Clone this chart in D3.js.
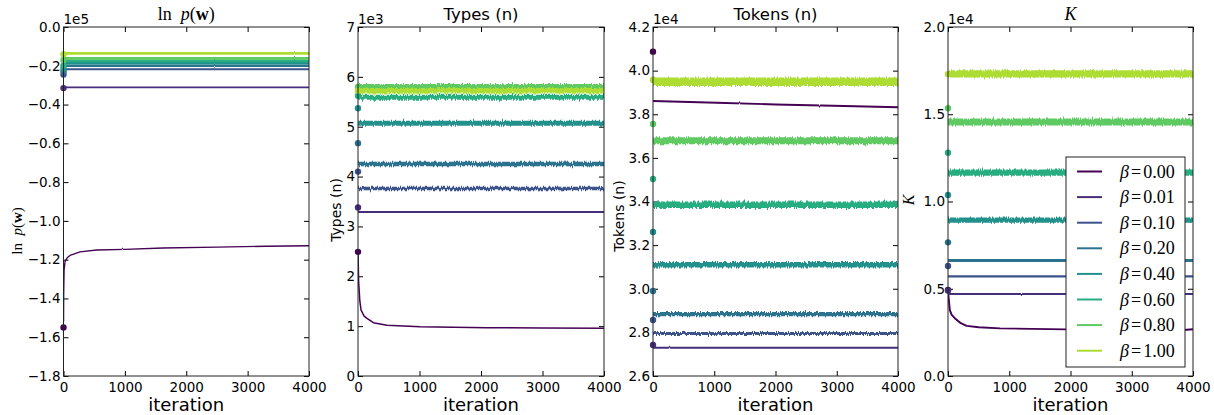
<!DOCTYPE html>
<html>
<head>
<meta charset="utf-8">
<script src="https://cdn.jsdelivr.net/npm/d3@7"></script>
<style>
  html, body { margin: 0; padding: 0; background: #fff; }
  svg { display: block; }
  .tick text { font-family: "DejaVu Sans", sans-serif; font-size: 13.5px; fill: #000; }
  .tick line { stroke: #000; stroke-width: 1; }
</style>
</head>
<body>
<svg id="chart" width="1214" height="415"></svg>
<script>
// ---- data -------------------------------------------------------------
const betas = ["0.00", "0.01", "0.10", "0.20", "0.40", "0.60", "0.80", "1.00"];
const iterTicks = [0, 1000, 2000, 3000, 4000];

// log-likelihood (x 1e5): initial state and [iteration, value] knots per beta
const lnpInitial = [-1.55, -0.315, -0.245, -0.230, -0.215, -0.200, -0.170, -0.140];
const lnpTrace = [
  [[1, -1.52], [3, -1.38], [10, -1.25], [25, -1.21], [60, -1.19], [106, -1.178], [270, -1.16], [540, -1.15], [1000, -1.147], [1620, -1.14], [2500, -1.135], [3300, -1.131], [4000, -1.128]],
  [[1, -0.311], [4000, -0.311]],
  [[1, -0.218], [4000, -0.218]],
  [[1, -0.200], [4000, -0.200]],
  [[1, -0.187], [4000, -0.187]],
  [[1, -0.175], [4000, -0.175]],
  [[1, -0.162], [4000, -0.162]],
  [[1, -0.136], [4000, -0.136]]
];
const lnpSpread = [0.007, 0.009, 0.011, 0.013, 0.014, 0.014, 0.014, 0.013];
const lnpTicks = [0, -0.2, -0.4, -0.6, -0.8, -1.0, -1.2, -1.4, -1.6, -1.8];

// number of types (x 1e3)
const typesInitial = [2.49, 3.38, 4.10, 4.67, 5.37, 5.62, 5.80, 5.72];
const typesTrace = [
  [[1, 2.45], [10, 1.9], [30, 1.5], [50, 1.32], [100, 1.2], [140, 1.16], [250, 1.07], [470, 1.02], [1010, 0.99], [2100, 0.97], [3000, 0.965], [4000, 0.96]],
  [[1, 3.29], [4000, 3.29]],
  [[1, 3.76], [4000, 3.76]],
  [[1, 4.25], [4000, 4.25]],
  [[1, 5.07], [4000, 5.07]],
  [[1, 5.59], [4000, 5.59]],
  [[1, 5.80], [4000, 5.80]],
  [[1, 5.72], [4000, 5.72]]
];
const typesSpread = [0.03, 0.04, 0.07, 0.09, 0.10, 0.10, 0.11, 0.11];
const typesTicks = [0, 1, 2, 3, 4, 5, 6, 7];

// number of tokens (x 1e4)
const tokensInitial = [4.087, 2.742, 2.857, 2.990, 3.260, 3.503, 3.755, 3.957];
const tokensTrace = [
  [[1, 3.861], [1040, 3.853], [2000, 3.845], [2940, 3.839], [4000, 3.832]],
  [[1, 2.730], [4000, 2.730]],
  [[1, 2.795], [4000, 2.795]],
  [[1, 2.884], [4000, 2.884]],
  [[1, 3.110], [4000, 3.110]],
  [[1, 3.385], [4000, 3.385]],
  [[1, 3.678], [4000, 3.678]],
  [[1, 3.949], [4000, 3.949]]
];
const tokensSpread = [0.009, 0.009, 0.014, 0.019, 0.025, 0.030, 0.032, 0.038];
const tokensTicks = [2.6, 2.8, 3.0, 3.2, 3.4, 3.6, 3.8, 4.0, 4.2];

// number of tables K (x 1e4)
const kInitial = [0.493, 0.490, 0.630, 0.766, 1.037, 1.280, 1.534, 1.730];
const kTrace = [
  [[1, 0.485], [10, 0.45], [30, 0.378], [60, 0.35], [115, 0.33], [200, 0.305], [305, 0.287], [500, 0.279], [850, 0.273], [1930, 0.267], [3000, 0.264], [3800, 0.262], [4000, 0.268]],
  [[1, 0.470], [4000, 0.470]],
  [[1, 0.571], [4000, 0.571]],
  [[1, 0.662], [4000, 0.662]],
  [[1, 0.893], [4000, 0.893]],
  [[1, 1.165], [4000, 1.165]],
  [[1, 1.455], [4000, 1.455]],
  [[1, 1.731], [4000, 1.731]]
];
const kSpread = [0.011, 0.011, 0.014, 0.017, 0.030, 0.036, 0.040, 0.042];
const kTicks = [0.0, 0.5, 1.0, 1.5, 2.0];

// ---- layout -----------------------------------------------------------
const svg = d3.select("#chart");
const plotTop = 27, plotBottom = 376;
const color = i => d3.interpolateViridis(i / 8);

// jagged texture for the sampled traces (vertical displacement only)
const defs = svg.append("defs");
function jitterFilter(id, scale, seed) {
  const f = defs.append("filter").attr("id", id)
    .attr("filterUnits", "userSpaceOnUse")
    .attr("x", 0).attr("y", 0).attr("width", 1214).attr("height", 415);
  f.append("feTurbulence").attr("type", "fractalNoise")
    .attr("baseFrequency", "0.9 0.02").attr("numOctaves", 2).attr("seed", seed).attr("result", "n");
  f.append("feColorMatrix").attr("in", "n").attr("type", "matrix")
    .attr("values", "0 0 0 0 0.5  0 1 0 0 0  0 0 1 0 0  0 0 0 0 1").attr("result", "m");
  f.append("feDisplacementMap").attr("in", "SourceGraphic").attr("in2", "m")
    .attr("scale", scale).attr("xChannelSelector", "R").attr("yChannelSelector", "G");
}
jitterFilter("jag-strong", 5, 3);
jitterFilter("jag-weak", 1.5, 7);

const panels = [
  { x0: 63.5, x1: 309, domain: [-1.8, 0], init: lnpInitial, trace: lnpTrace, spread: lnpSpread, ticks: lnpTicks,
    fmt: d3.format(".1f"), offset: "1e5", title: "lnp", ylabel: "lnp", ylabelX: 17, ylabelY: 231 },
  { x0: 358, x1: 604, domain: [0, 7], init: typesInitial, trace: typesTrace, spread: typesSpread, ticks: typesTicks,
    fmt: d3.format("d"), offset: "1e3", title: "Types (n)", ylabel: "Types (n)", ylabelX: 336, ylabelY: 210 },
  { x0: 653, x1: 898, domain: [2.6, 4.2], init: tokensInitial, trace: tokensTrace, spread: tokensSpread, ticks: tokensTicks,
    fmt: d3.format(".1f"), offset: "1e4", title: "Tokens (n)", ylabel: "Tokens (n)", ylabelX: 619, ylabelY: 216 },
  { x0: 948, x1: 1193, domain: [0, 2], init: kInitial, trace: kTrace, spread: kSpread, ticks: kTicks,
    fmt: d3.format(".1f"), offset: "1e4", title: "K", ylabel: "K", ylabelX: 909, ylabelY: 200 }
];

function mathLabel(sel, kind, size) {
  // renders "ln p(w)" or "K" in a math-like serif style
  sel.style("font-family", "'Liberation Serif', 'DejaVu Serif', serif").style("font-size", size + "px");
  if (kind === "lnp") {
    sel.append("tspan").text("ln");
    sel.append("tspan").attr("dx", size * 0.5).style("font-style", "italic").text("p");
    sel.append("tspan").text("(");
    sel.append("tspan").style("font-weight", "bold").text("w");
    sel.append("tspan").text(")");
  } else if (kind === "K") {
    sel.append("tspan").style("font-style", "italic").text("K");
  } else {
    sel.style("font-family", "'DejaVu Sans', sans-serif").text(kind);
  }
}

panels.forEach(p => {
  const w = p.x1 - p.x0, h = plotBottom - plotTop;
  const g = svg.append("g").attr("transform", `translate(${p.x0},${plotTop})`);
  const x = d3.scaleLinear().domain([0, 4000]).range([0, w]);
  const y = d3.scaleLinear().domain(p.domain).range([h, 0]);

  // axes with inward ticks on all four sides
  g.append("g").attr("transform", `translate(0,${h})`)
    .call(d3.axisBottom(x).tickValues(iterTicks).tickSize(-5).tickPadding(6).tickFormat(d3.format("d")))
    .call(a => a.select(".domain").remove());
  g.append("g")
    .call(d3.axisTop(x).tickValues(iterTicks).tickSize(-5).tickFormat(""))
    .call(a => a.select(".domain").remove());
  g.append("g")
    .call(d3.axisLeft(y).tickValues(p.ticks).tickSize(-5).tickPadding(3).tickFormat(p.fmt))
    .call(a => a.select(".domain").remove());
  g.append("g").attr("transform", `translate(${w},0)`)
    .call(d3.axisRight(y).tickValues(p.ticks).tickSize(-5).tickFormat(""))
    .call(a => a.select(".domain").remove());

  // traces
  const line = d3.line().x(d => x(d[0])).y(d => y(d[1]));
  p.trace.forEach((tr, i) => {
    const px = Math.abs(y(0) - y(p.spread[i]));
    g.append("path")
      .attr("d", line(tr))
      .attr("fill", "none")
      .attr("stroke", color(i))
      .attr("stroke-width", Math.max(1.3, px))
      .attr("stroke-linejoin", "round")
      .attr("filter", px > 3 ? "url(#jag-strong)" : "url(#jag-weak)");
  });
  // initial states
  p.init.forEach((v, i) => {
    g.append("circle")
      .attr("cx", x(0)).attr("cy", y(v)).attr("r", 3.2)
      .attr("fill", color(i));
  });

  // frame
  g.append("rect").attr("x", 0).attr("y", 0).attr("width", w).attr("height", h)
    .attr("fill", "none").attr("stroke", "#222").attr("stroke-width", 1);

  // offset, title, axis labels
  g.append("text").attr("x", 0).attr("y", -3)
    .style("font-family", "'DejaVu Sans', sans-serif").style("font-size", "13.5px").text(p.offset);
  const t = g.append("text").attr("x", w / 2).attr("y", -7).attr("text-anchor", "middle");
  mathLabel(t, p.title, p.title === "lnp" || p.title === "K" ? 18 : 16.5);
  if (p.title !== "lnp" && p.title !== "K") t.style("font-size", "16.5px");

  g.append("text").attr("x", w / 2).attr("y", 411 - plotTop).attr("text-anchor", "middle")
    .style("font-family", "'DejaVu Sans', sans-serif").style("font-size", "18px").text("iteration");

  const yl = svg.append("text")
    .attr("transform", `translate(${p.ylabelX + 5},${p.ylabelY}) rotate(-90)`)
    .attr("text-anchor", "middle");
  mathLabel(yl, p.ylabel, p.ylabel === "lnp" ? 15 : p.ylabel === "K" ? 16 : 14);
  if (p.ylabel !== "lnp" && p.ylabel !== "K") yl.style("font-size", "14px");
});

// ---- legend (inside the K panel) --------------------------------------
const lg = svg.append("g").attr("transform", "translate(1066,157)");
lg.append("rect").attr("x", 0).attr("y", 0).attr("width", 119).attr("height", 210)
  .attr("fill", "#fff").attr("stroke", "#222").attr("stroke-width", 1);
betas.forEach((b, i) => {
  const ry = 14.5 + i * 25.6;
  lg.append("line").attr("x1", 11).attr("x2", 36).attr("y1", ry).attr("y2", ry)
    .attr("stroke", color(i)).attr("stroke-width", 2);
  const tx = lg.append("text").attr("x", 54).attr("y", ry + 6)
    .style("font-family", "'Liberation Serif', 'DejaVu Serif', serif").style("font-size", "18px");
  tx.append("tspan").style("font-style", "italic").text("β");
  tx.append("tspan").attr("dx", 2).text("=");
  tx.append("tspan").attr("dx", 2).text(b);
});
</script>
</body>
</html>
